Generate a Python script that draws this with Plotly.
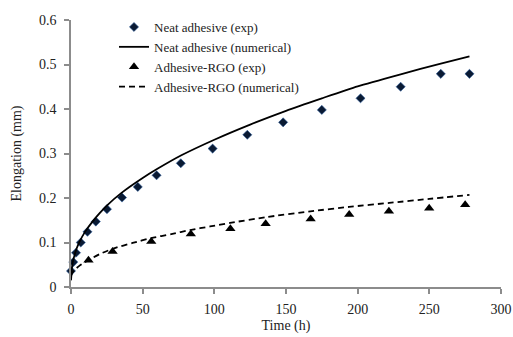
import plotly.graph_objects as go

# Experimental data
neat_exp_t = [0, 1.6, 3.5, 6.8, 11.5, 17.3, 25.1, 35.6, 46.6, 59.7, 76.6, 98.8, 123, 148, 175, 202, 230, 258, 278]
neat_exp_y = [0.036, 0.056, 0.077, 0.100, 0.124, 0.147, 0.175, 0.201, 0.225, 0.251, 0.278, 0.311, 0.342, 0.370, 0.398, 0.424, 0.450, 0.479, 0.479]

rgo_exp_t = [12.2, 29, 56, 83.6, 111.2, 135.8, 167.2, 194.1, 221.8, 249.9, 275]
rgo_exp_y = [0.060, 0.080, 0.102, 0.119, 0.131, 0.142, 0.153, 0.163, 0.170, 0.177, 0.185]

# Numerical curves
neat_num_t = [0, 1, 2, 4, 6, 10, 15, 20, 25, 35, 50, 60, 77, 100, 125, 150, 175, 200, 230, 258, 278]
neat_num_y = [0.015, 0.052, 0.066, 0.087, 0.102, 0.125, 0.147, 0.166, 0.183, 0.211, 0.245, 0.265, 0.296, 0.331, 0.365, 0.396, 0.424, 0.451, 0.478, 0.502, 0.518]

rgo_num_t = [0, 1, 3, 6, 12, 20, 30, 43, 56, 70, 83, 97, 111, 136, 167, 194, 222, 250, 278]
rgo_num_y = [0.025, 0.032, 0.040, 0.048, 0.060, 0.074, 0.087, 0.099, 0.110, 0.119, 0.128, 0.136, 0.144, 0.157, 0.170, 0.180, 0.189, 0.198, 0.207]

x_ticks = [0, 50, 100, 150, 200, 250, 300]
y_ticks = [0, 0.1, 0.2, 0.3, 0.4, 0.5, 0.6]
y_tick_text = ["0", "0.1", "0.2", "0.3", "0.4", "0.5", "0.6"]

FONT = "Times New Roman, Liberation Serif, DejaVu Serif, serif"

fig = go.Figure()
fig.add_trace(go.Scatter(x=neat_exp_t, y=neat_exp_y, mode="markers", name="Neat adhesive (exp)",
                         cliponaxis=False,
                         marker=dict(symbol="diamond", size=7, color="#0a1a33",
                                     line=dict(width=0.6, color="#2a5a9a"))))
fig.add_trace(go.Scatter(x=neat_num_t, y=neat_num_y, mode="lines", name="Neat adhesive (numerical)",
                         line=dict(color="black", width=1.8, shape="spline", smoothing=0.6)))
fig.add_trace(go.Scatter(x=rgo_exp_t, y=rgo_exp_y, mode="markers", name="Adhesive-RGO (exp)",
                         cliponaxis=False,
                         marker=dict(symbol="triangle-up", size=9, color="black")))
fig.add_trace(go.Scatter(x=rgo_num_t, y=rgo_num_y, mode="lines", name="Adhesive-RGO (numerical)",
                         line=dict(color="black", width=1.8, dash="6px,4px", shape="spline", smoothing=0.6)))

axis_common = dict(showgrid=False, zeroline=False, showline=True, linecolor="#8c8c8c", linewidth=1.5,
                   ticks="outside", ticklen=5, tickcolor="#8c8c8c", tickwidth=1.5, automargin=False,
                   tickfont=dict(family=FONT, size=14, color="#222"))

fig.update_layout(
    width=513, height=337,
    margin=dict(l=71, r=12, t=14, b=50),
    paper_bgcolor="white", plot_bgcolor="white",
    font=dict(family=FONT, size=14, color="#222"),
    xaxis=dict(range=[0, 300], tickvals=x_ticks, ticklabelstandoff=3,
               title=dict(text="Time (h)", font=dict(family=FONT, size=14, color="#222"), standoff=5),
               **axis_common),
    yaxis=dict(range=[0, 0.6], tickvals=y_ticks, ticktext=y_tick_text, ticklabelstandoff=5,
               title=dict(text="Elongation (mm)", font=dict(family=FONT, size=14, color="#222"), standoff=14),
               **axis_common),
    legend=dict(x=0.10, y=1.03, xanchor="left", yanchor="top", bgcolor="rgba(0,0,0,0)",
                font=dict(family=FONT, size=13, color="#222"), itemwidth=30, tracegroupgap=0),
    showlegend=True,
)

fig.write_html("out.html")
